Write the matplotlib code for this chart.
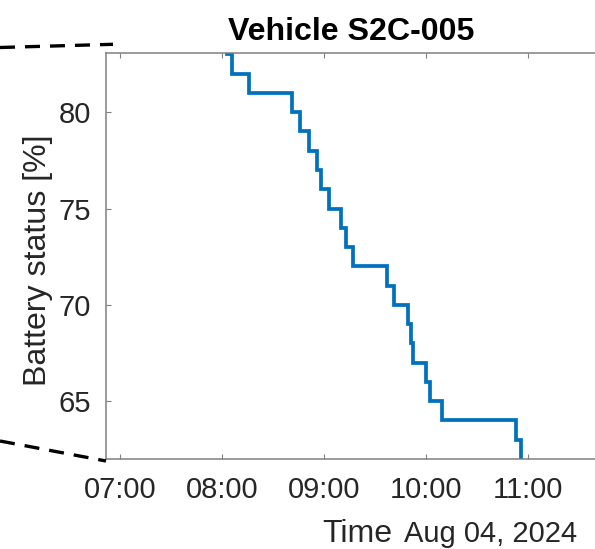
import matplotlib
matplotlib.use("Agg")
import matplotlib.pyplot as plt
import matplotlib.dates as mdates
from matplotlib.lines import Line2D
import pandas as pd

plt.rcParams['font.family'] = ['Liberation Sans', 'DejaVu Sans']

# -------------------------------
# Battery log (Aug 04, 2024)
# -------------------------------
day = "2024-08-04"
times = ["08:00", "08:03", "08:06", "08:16", "08:41", "08:46", "08:51", "08:56",
         "08:58", "09:03", "09:10", "09:13", "09:17", "09:37", "09:41", "09:49",
         "09:51", "09:52", "10:00", "10:02", "10:09", "10:53", "10:56", "11:00"]
battery = [84, 83, 82, 81, 80, 79, 78, 77,
           76, 75, 74, 73, 72, 71, 70, 69,
           68, 67, 66, 65, 64, 63, 61, 61]
x_range = ["06:51:36", "11:40:00"]
y_range = [62, 83.1]
y_ticks = [65, 70, 75, 80]

t = pd.to_datetime([f"{day} {s}" for s in times])
xlim = pd.to_datetime([f"{day} {s}" for s in x_range])

axis_grey = "#808080"
text_grey = "#262626"
tick_size = 21
label_size = 1.1 * tick_size

fig = plt.figure(figsize=(5.95, 5.49), dpi=100)
ax = fig.add_axes([106 / 595, 1 - 459 / 549, 490.3 / 595, (459 - 52.5) / 549])

ax.step(t, battery, where="post", color="#0072BD", lw=2.7,
        solid_joinstyle="miter", solid_capstyle="butt")

ax.set_xlim(xlim[0], xlim[1])
ax.set_ylim(*y_range)
ax.set_yticks(y_ticks)
ax.xaxis.set_major_locator(mdates.HourLocator())
ax.xaxis.set_major_formatter(mdates.DateFormatter("%H:%M"))

for side in ["left", "bottom", "top"]:
    ax.spines[side].set_color(axis_grey)
    ax.spines[side].set_linewidth(1.1)
ax.spines["right"].set_visible(False)

ax.tick_params(axis="x", direction="in", top=True, length=3.6, width=0.8,
               color=axis_grey, labelsize=tick_size, labelcolor=text_grey, pad=12)
ax.tick_params(axis="y", direction="in", right=False, length=3.6, width=0.8,
               color=axis_grey, labelsize=tick_size, labelcolor=text_grey, pad=11)

ax.set_title("Vehicle S2C-005", fontsize=label_size, fontweight="bold", pad=9)
ax.set_ylabel("Battery status [%]", fontsize=label_size, color=text_grey, labelpad=4)
ax.yaxis.label.set_y(0.49)
ax.set_xlabel("Time", fontsize=label_size, color=text_grey)
ax.xaxis.set_label_coords(0.512, -0.1474)
fig.text(577 / 595, 1 - 542 / 549, "Aug 04, 2024", fontsize=tick_size, color=text_grey,
         ha="right", va="baseline")

# dashed connectors toward the zoomed region
dash = dict(color="black", lw=2.4, linestyle=(0, (4.5, 3)))
fig.add_artist(Line2D([0, 113 / 595], [1 - 47.5 / 549, 1 - 44.3 / 549],
                      transform=fig.transFigure, **dash))
fig.add_artist(Line2D([0, 106 / 595], [1 - 441 / 549, 1 - 461 / 549],
                      transform=fig.transFigure, **dash))

fig.savefig("out.png", dpi=100)
